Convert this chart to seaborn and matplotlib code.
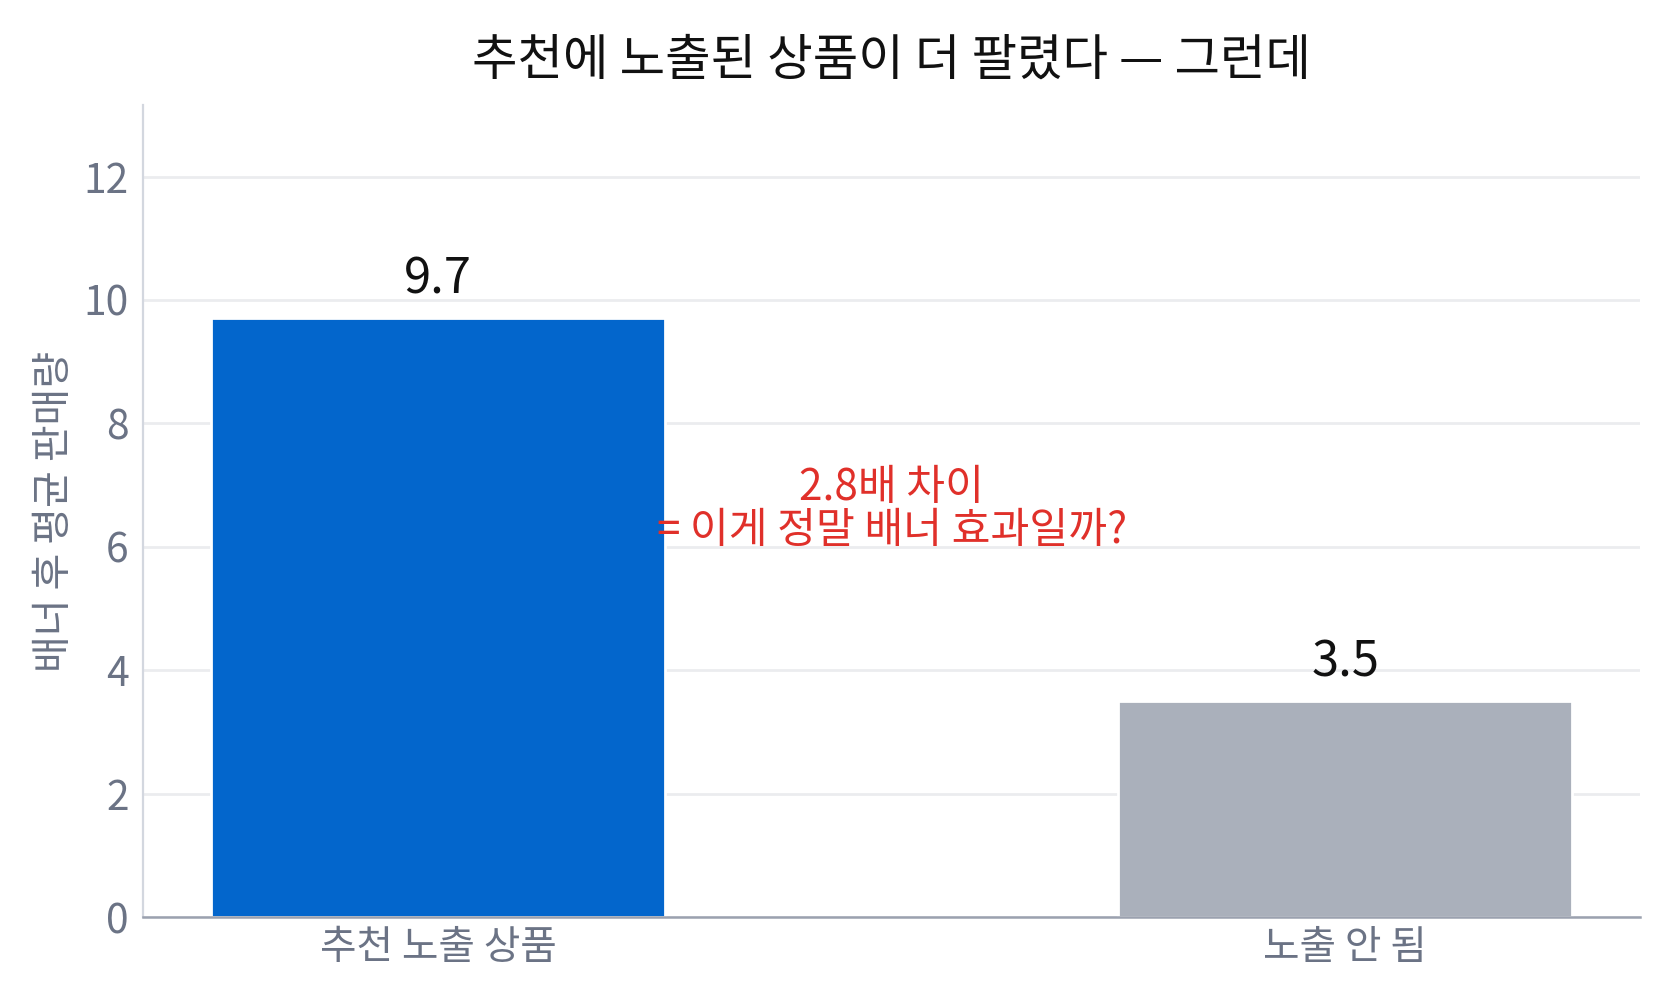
import matplotlib
matplotlib.use("Agg")
import matplotlib.pyplot as plt
import seaborn as sns
import pandas as pd

categories = ["추천 노출 상품", "노출 안 됨"]
values = [9.7, 3.5]
bar_colors = ["#0366CC", "#AAB0BB"]
title = "추천에 노출된 상품이 더 팔렸다 — 그런데"
ylabel = "배너 후 평균 판매량"
note = "2.8배 차이\n= 이게 정말 배너 효과일까?"

sns.set_theme(style="white")
plt.rcParams['font.family'] = ['Noto Sans CJK KR', 'DejaVu Sans']

df = pd.DataFrame({"cat": categories, "val": values})

fig = plt.figure(figsize=(8.4, 5.0), dpi=200)
ax = fig.add_axes([142.5/1680, 1 - 917/1000, (1640-142.5)/1680, (917-105)/1000])

sns.barplot(data=df, x="cat", y="val", hue="cat", palette=bar_colors,
            width=0.5, legend=False, ax=ax, saturation=1)

ax.set_xlim(-0.326, 1.325)
ax.set_ylim(0, 13.16)
ax.set_yticks([0, 2, 4, 6, 8, 10, 12])
ax.yaxis.grid(True, color="#EBECEF", linewidth=1.0)
ax.set_axisbelow(True)

for s in ["top", "right"]:
    ax.spines[s].set_visible(False)
ax.spines["left"].set_color("#D3D7DF")
ax.spines["left"].set_linewidth(0.8)
ax.spines["bottom"].set_color("#9BA1AF")
ax.spines["bottom"].set_linewidth(0.9)

ax.tick_params(axis="y", labelsize=14.7, colors="#6B7385", length=0, pad=5)
ax.tick_params(axis="x", labelsize=14.3, colors="#6B7385", length=0, pad=4)
ax.set_xlabel("")
ax.set_ylabel(ylabel, fontsize=14.4, color="#6B7385", labelpad=3)

for i, v in enumerate(values):
    ax.annotate(f"{v}", xy=(i, v), xytext=(0, 5), textcoords="offset points",
                ha="center", va="bottom", fontsize=17.6, color="#111111")

ax.text(0.5, 6.6, note, ha="center", va="center", fontsize=15.2,
        color="#E0302A", linespacing=0.98)

ax.set_title(title, fontsize=17.8, color="#111111", pad=11)

fig.savefig("out.png", dpi=200)
